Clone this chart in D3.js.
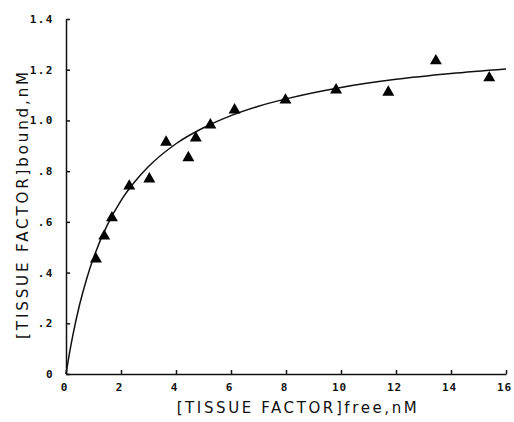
<!DOCTYPE html>
<html>
<head>
<meta charset="utf-8">
<script src="https://cdn.jsdelivr.net/npm/d3@7"></script>
<style>
  body { margin: 0; background: #fff; }
  text { font-family: "DejaVu Sans Mono", monospace; fill: #111; }
</style>
</head>
<body>
<svg id="chart" width="514" height="422"></svg>
<script>
// measured points (free, bound)
var freeNM  = [1.09, 1.39, 1.67, 2.30, 3.03, 3.64, 4.45, 4.72, 5.25, 6.13, 7.98, 9.82, 11.72, 13.45, 15.39];
var boundNM = [0.453, 0.544, 0.616, 0.741, 0.769, 0.914, 0.853, 0.931, 0.982, 1.041, 1.080, 1.120, 1.111, 1.235, 1.168];

// fitted curve
var curveX = [0, 0.125, 0.25, 0.5, 0.75, 1, 1.5, 2, 2.5, 3, 4, 5, 6, 7, 8, 10, 12, 14, 16];
var curveY = [0, 0.081, 0.153, 0.276, 0.375, 0.458, 0.587, 0.684, 0.758, 0.818, 0.908, 0.971, 1.019, 1.056, 1.085, 1.130, 1.162, 1.185, 1.203];

var xTicks = [0, 2, 4, 6, 8, 10, 12, 14, 16];
var yTicks = [0, 0.2, 0.4, 0.6, 0.8, 1.0, 1.2, 1.4];
var yTickLabels = ["0", ".2", ".4", ".6", ".8", "1.0", "1.2", "1.4"];

var svg = d3.select("#chart"),
    margin = {top: 19, right: 8, bottom: 48, left: 66},
    width = +svg.attr("width") - margin.left - margin.right,
    height = +svg.attr("height") - margin.top - margin.bottom;

var x = d3.scaleLinear().domain([0, 16]).range([0, width]);
var y = d3.scaleLinear().domain([0, 1.4]).range([height, 0]);

var g = svg.append("g")
    .attr("transform", "translate(" + margin.left + "," + margin.top + ")");

// x axis
var xAxis = g.append("g")
    .attr("transform", "translate(0," + height + ")")
    .call(d3.axisBottom(x).tickValues(xTicks).tickSizeInner(-4).tickSizeOuter(0).tickPadding(9)
        .tickFormat(function(d) { return d; }));

// y axis
var yAxis = g.append("g")
    .call(d3.axisLeft(y).tickValues(yTicks).tickSizeInner(-4).tickSizeOuter(0).tickPadding(12)
        .tickFormat(function(d, i) { return yTickLabels[i]; }));

g.selectAll(".domain").attr("stroke", "#111").attr("stroke-width", 1.5);
g.selectAll(".tick line").attr("stroke", "#111").attr("stroke-width", 1.5);
g.selectAll(".tick text")
    .style("font-family", "'DejaVu Sans Mono', monospace")
    .style("font-weight", "bold")
    .style("font-size", "11px")
    .style("letter-spacing", "1.5px")
    .attr("fill", "#111");
xAxis.selectAll(".tick text")
    .style("letter-spacing", "1px")
    .attr("dx", "-2");

// curve
var line = d3.line()
    .x(function(d, i) { return x(curveX[i]); })
    .y(function(d) { return y(d); })
    .curve(d3.curveMonotoneX);

g.append("path")
    .datum(curveY)
    .attr("fill", "none")
    .attr("stroke", "#111")
    .attr("stroke-width", 1.5)
    .attr("d", line);

// triangles
g.selectAll(".pt")
    .data(freeNM)
    .enter().append("path")
    .attr("class", "pt")
    .attr("fill", "#000")
    .attr("d", d3.symbol().type(d3.symbolTriangle).size(62))
    .attr("transform", function(d, i) {
        return "translate(" + x(d) + "," + y(boundNM[i]) + ")";
    });

// axis titles
svg.append("text")
    .attr("x", 298)
    .attr("y", 413)
    .attr("text-anchor", "middle")
    .style("font-family", "'DejaVu Sans', sans-serif")
    .style("font-size", "15px")
    .style("letter-spacing", "2.6px")
    .text("[TISSUE FACTOR]free,nM");

svg.append("text")
    .attr("transform", "translate(28," + 204 + ") rotate(-90)")
    .attr("text-anchor", "middle")
    .style("font-family", "'DejaVu Sans', sans-serif")
    .style("font-size", "15px")
    .style("letter-spacing", "2.9px")
    .text("[TISSUE FACTOR]bound,nM");
</script>
</body>
</html>
